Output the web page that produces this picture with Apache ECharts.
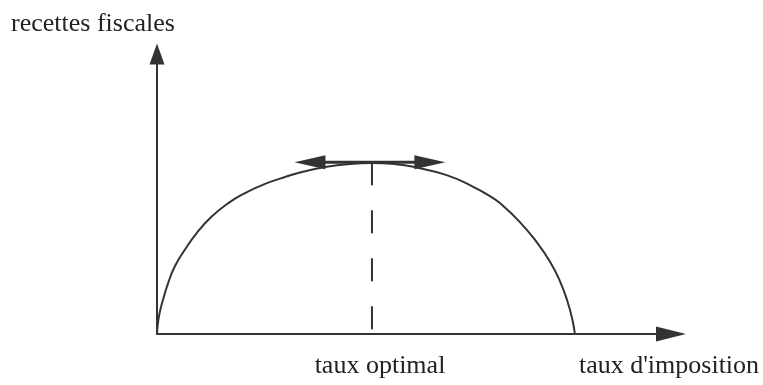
<!DOCTYPE html>
<html>
<head>
<meta charset="utf-8">
<script src="https://cdn.jsdelivr.net/npm/echarts@6/dist/echarts.min.js"></script>
<style>
  html, body { margin: 0; padding: 0; background: #fff; }
  #main { width: 763px; height: 385px; }
</style>
</head>
<body>
<div id="main"></div>
<script>
// taux d'imposition (%) / recettes fiscales (sommet ~ 100)
var tauxData = [0, 0.12, 0.36, 0.84, 1.56, 2.70, 4.31, 6.70, 9.50, 13.09, 17.06, 21.05, 25.43, 29.43, 34.21, 40.60, 46.17, 51.44,
    56.94, 61.32, 69.31, 75.67, 79.67, 82.06, 86.84, 90.84, 94.02, 96.41, 98.16, 99.45, 100]
var recettesData = [0, 4.07, 8.72, 14.53, 20.93, 29.94, 39.53, 49.13, 58.72, 68.31, 76.16, 81.98, 86.92, 90.41, 94.01, 97.27, 98.9, 99.42,
    98.84, 97.27, 92.44, 85.64, 80.23, 76.16, 65.12, 53.49, 42.15, 30.81, 19.48, 7.85, 0]
var tauxOptimal = 51.44
var niveauFleche = 100
var flecheGauche = 36.6
var flecheDroite = 65.3

var courbe = tauxData.map(function (x, i) { return [x, recettesData[i]] })

var myChart = echarts.init(document.getElementById('main'))
var ink = '#333'
var txt = { fontFamily: '"Liberation Serif", "DejaVu Serif", serif', fontSize: 26, fill: '#222' }

var option = {
    animation: false,
    grid: { left: 157, right: 92, top: 59, bottom: 51 },
    xAxis: {
        type: 'value', min: 0, max: 123,
        splitLine: { show: false }, axisTick: { show: false }, axisLabel: { show: false },
        axisLine: { lineStyle: { color: ink, width: 2 }, symbol: ['none', 'triangle'], symbolSize: [15, 30] }
    },
    yAxis: {
        type: 'value', min: 0, max: 160,
        splitLine: { show: false }, axisTick: { show: false }, axisLabel: { show: false },
        axisLine: { lineStyle: { color: ink, width: 2 }, symbol: ['none', 'triangle'], symbolSize: [15, 21], symbolOffset: [0, 5] }
    },
    series: [
        {
            type: 'line', data: courbe, smooth: 0.5, showSymbol: false,
            lineStyle: { color: ink, width: 2 }
        },
        {
            // pointillé vers le taux optimal
            type: 'line', data: [[tauxOptimal, niveauFleche], [tauxOptimal, 0]], showSymbol: false,
            lineStyle: { color: ink, width: 2, type: [23, 25] }
        },
        {
            // double flèche au sommet
            type: 'line',
            data: [
                { value: [flecheGauche, niveauFleche], symbolRotate: 90 },
                { value: [flecheDroite, niveauFleche], symbolRotate: -90 }
            ],
            symbol: 'triangle', symbolSize: [14, 31], showSymbol: true,
            itemStyle: { color: ink, opacity: 1 },
            lineStyle: { color: ink, width: 3 }
        }
    ],
    graphic: [
        { type: 'text', style: Object.assign({ text: 'recettes fiscales', x: 11, y: 24, align: 'left', verticalAlign: 'middle' }, txt) },
        { type: 'text', style: Object.assign({ text: 'taux optimal', x: 380, y: 366, align: 'center', verticalAlign: 'middle' }, txt) },
        { type: 'text', style: Object.assign({ text: "taux d'imposition", x: 669, y: 366, align: 'center', verticalAlign: 'middle' }, txt) }
    ]
}

myChart.setOption(option)
</script>
</body>
</html>
